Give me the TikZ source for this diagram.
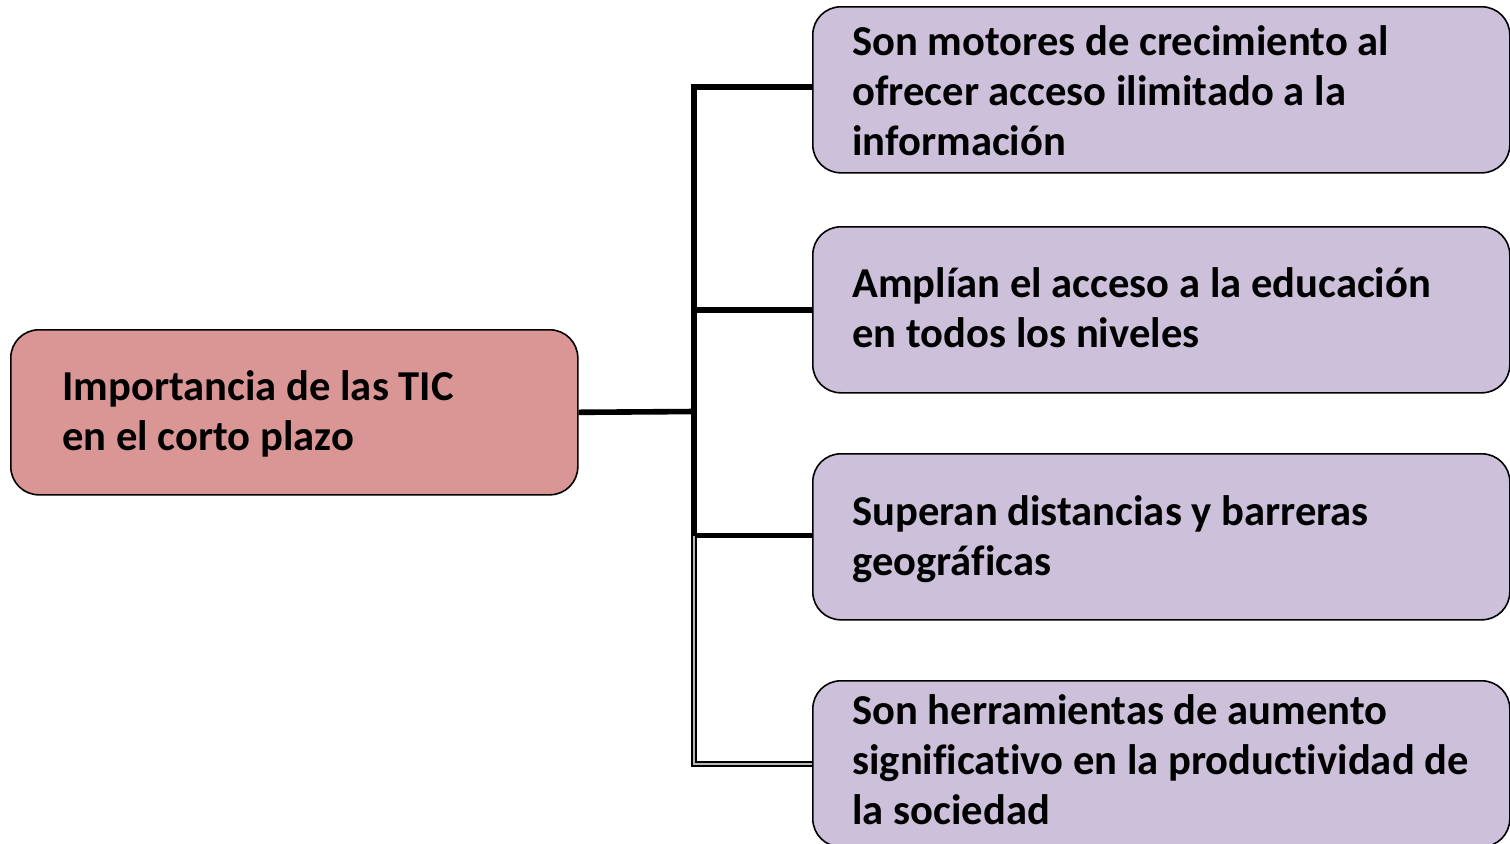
\documentclass[tikz,border=0pt]{standalone}
\usepackage{fontspec}
\setmainfont{Carlito}[RawFeature=-liga]
\definecolor{pinkfill}{HTML}{D99694}
\definecolor{lilac}{HTML}{CCC0DA}
\begin{document}
\begin{tikzpicture}[x=0.5pt,y=-0.5pt,
  box/.style={draw=black, line width=0.8pt, rounded corners=14pt, inner sep=0pt, anchor=north west},
  leftbox/.style={box, fill=pinkfill, minimum width=283.5pt, minimum height=82.5pt},
  rightbox/.style={box, fill=lilac, minimum width=348.5pt, minimum height=83pt},
  txt/.style={anchor=base west, inner sep=0pt, align=left, font=\fontsize{21.3}{25}\selectfont\bfseries},
  link/.style={line width=2.8pt, black},
  dlink/.style={draw=black, line width=0.6pt, double=gray!55, double distance=1.4pt}]
\useasboundingbox (0,0) rectangle (1510,843);
\clip (0,0) rectangle (1510,843);
% boxes
\node[leftbox]  (L)  at (10,329) {};
\node[rightbox] (B1) at (812,6) {};
\node[rightbox] (B2) at (812,226) {};
\node[rightbox] (B3) at (812,453) {};
\node[rightbox] (B4) at (812,680) {};
% texts (anchor at baseline of last line)
\node[txt] (tL) at (62,450) {Importancia de las TIC\\en el corto plazo};
\node[txt] (t1) at (852,155) {Son motores de crecimiento al\\ofrecer acceso ilimitado a la\\información};
\node[txt] (t2) at (852,347) {Amplían el acceso a la educación\\en todos los niveles};
\node[txt] (t3) at (852,575) {Superan distancias y barreras\\geográficas};
\node[txt] (t4) at (852,824) {Son herramientas de aumento\\significativo en la productividad de\\la sociedad};
% connectors
\coordinate (j0) at (694,411.5);
\coordinate (j1) at (694,87);
\coordinate (j3) at (694,535.5);
\coordinate (j4) at (694,764);
\draw[link] (L.east) -- (j0);
\draw[link] ([yshift=1.4pt]j1) -- (j3);
\draw[link] ([xshift=-1.4pt]j1 -| j0) -- (j1 -| B1.west);
\draw[link] (B2.west -| j0) -- (B2.west);
\draw[link] (j3) -- (j3 -| B3.west);
\draw[dlink] (j3) -- (j4) -- (j4 -| B4.west);
\end{tikzpicture}
\end{document}
